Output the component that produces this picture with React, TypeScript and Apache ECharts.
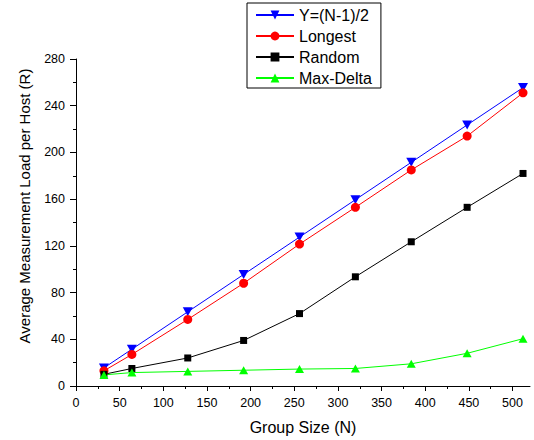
import React, { useEffect, useRef } from "react";
import * as echarts from "echarts";

const groupSizes = [32, 64, 128, 192, 256, 320, 384, 448, 512];
const halfN = [15.5, 31.5, 63.5, 95.5, 127.5, 159.5, 191.5, 223.5, 255.5];
const longest = [13, 27, 57, 88, 121.5, 153, 185, 214, 251];
const random = [10, 15, 24, 39, 62, 93.5, 123.5, 153, 182];
const maxDelta = [9.5, 11.5, 12.5, 13.5, 14.5, 15, 19, 28, 40.5];
const seriesNames = ["Y=(N-1)/2", "Longest", "Random", "Max-Delta"];
const xMajorTicks = [0, 50, 100, 150, 200, 250, 300, 350, 400, 450, 500];
const xMinorTicks = [25, 75, 125, 175, 225, 275, 325, 375, 425, 475];

const FONT = "'Liberation Sans', Arial, Helvetica, sans-serif";

export default function App() {
  const ref = useRef<HTMLDivElement>(null);
  useEffect(() => {
    if (!ref.current) return;
    const chart = echarts.init(ref.current, null, { renderer: "svg" });
    const pair = (vals: number[]) => groupSizes.map((n, i) => [n, vals[i]]);
    const mk = (name: string, vals: number[], color: string, symbol: string, size: any) => ({
      type: "line",
      name,
      data: pair(vals),
      xAxisIndex: 0,
      yAxisIndex: 0,
      symbol,
      symbolSize: size,
      showAllSymbol: true,
      lineStyle: { color, width: 1 },
      itemStyle: { color, borderWidth: 0 },
      emphasis: { disabled: true },
    });
    chart.setOption({
      animation: false,
      textStyle: { fontFamily: FONT },
      grid: { left: 76, right: 4, top: 59, bottom: 54, outerBoundsMode: "none", containLabel: false },
      legend: {
        orient: "vertical",
        left: 247,
        top: 3,
        data: seriesNames,
        itemWidth: 38,
        itemHeight: 11,
        itemGap: 5,
        padding: [4, 9, 2, 8],
        borderColor: "#000",
        borderWidth: 1,
        backgroundColor: "#fff",
        textStyle: { fontSize: 16, color: "#000", fontFamily: FONT },
        selectedMode: false,
      },
      xAxis: [
        {
          type: "value",
          min: 0,
          max: 520,
          name: "Group Size (N)",
          nameLocation: "middle",
          nameGap: 33,
          nameTextStyle: { fontSize: 16, color: "#000", fontFamily: FONT },
          axisLine: { show: true, onZero: false, lineStyle: { color: "#000", width: 1 } },
          axisTick: { show: true, length: 5, customValues: xMajorTicks, lineStyle: { color: "#000" } },
          axisLabel: { customValues: xMajorTicks, margin: 10, fontSize: 12.5, color: "#000", fontFamily: FONT },
          splitLine: { show: false },
        },
        {
          type: "value",
          min: 0,
          max: 520,
          position: "bottom",
          axisLine: { show: false },
          axisTick: { show: true, length: 3, customValues: xMinorTicks, lineStyle: { color: "#000" } },
          axisLabel: { show: false },
          splitLine: { show: false },
        },
      ],
      yAxis: {
        type: "value",
        min: 0,
        max: 280,
        interval: 40,
        axisLine: { show: true, onZero: false, lineStyle: { color: "#000", width: 1 } },
        axisTick: { show: true, length: 6, lineStyle: { color: "#000" } },
        minorTick: { show: true, splitNumber: 2, length: 3, lineStyle: { color: "#000" } },
        axisLabel: { margin: 11, fontSize: 12.5, color: "#000", fontFamily: FONT },
        splitLine: { show: false },
      },
      graphic: [
        {
          type: "text",
          x: 24,
          y: 206,
          rotation: Math.PI / 2,
          style: {
            text: "Average Measurement Load per Host (R)",
            font: "15px " + FONT,
            fill: "#000",
            align: "center",
            verticalAlign: "middle",
          },
        },
      ],
      series: [
        mk(seriesNames[0], halfN, "#0000ff", "path://M0,0L10,0L5,9Z", [10, 9]),
        mk(seriesNames[1], longest, "#ff0000", "circle", 9),
        mk(seriesNames[2], random, "#000000", "rect", 7),
        mk(seriesNames[3], maxDelta, "#00ff00", "triangle", [9, 8]),
      ],
    });
    return () => chart.dispose();
  }, []);
  return (
    <div
      ref={ref}
      style={{ position: "absolute", left: 0, top: 0, width: 534, height: 440, background: "#fff" }}
    />
  );
}
